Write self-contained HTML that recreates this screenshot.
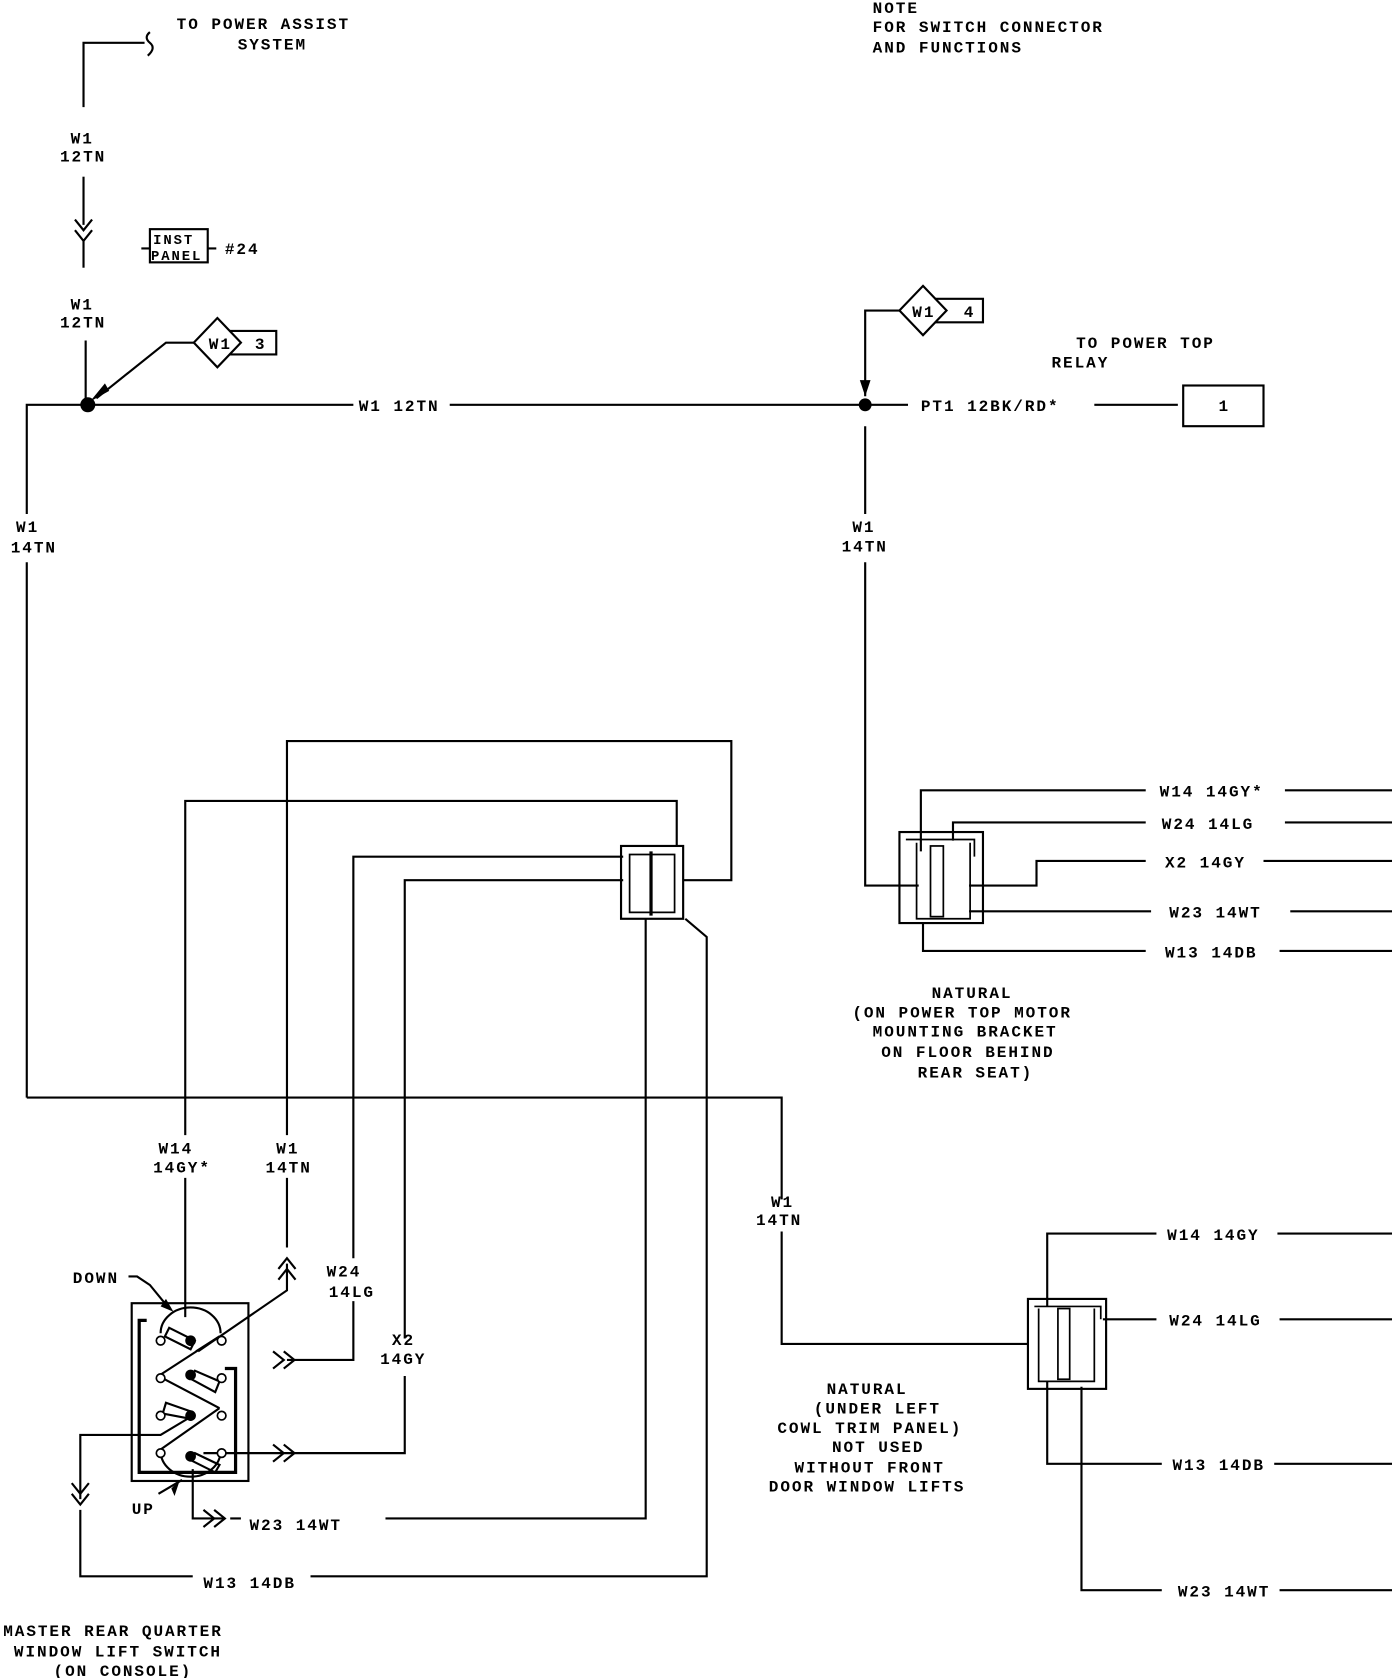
<!DOCTYPE html>
<html><head><meta charset="utf-8"><style>
html,body{margin:0;padding:0;background:#fff}
svg{display:block}
text{font-family:"Liberation Mono",monospace;font-weight:bold;font-size:15px;letter-spacing:1.8px;fill:#000}
</style></head><body>
<svg width="1392" height="1678" viewBox="0 0 1300 1567" preserveAspectRatio="none" xmlns="http://www.w3.org/2000/svg">
<g fill="none" stroke="#000" stroke-width="2">
<!-- top left feed -->
<path d="M78 100 V40 H135"/>
<path d="M140 30 q-6 5 0 10 q6 5 -2 12"/>
<path d="M78 165 V210"/>
<path d="M70 205 l8 10 l8 -10 M70 215 l8 10 l8 -10"/>
<path d="M78 225 V250"/>
<rect x="140" y="214" width="54" height="31"/>
<path d="M132 232 H140 M194 232 H202"/>
<path d="M80 318 V378"/>
<!-- diamond 3 -->
<path d="M203 297 L225 320 L203 343 L181 320 Z"/>
<path d="M214 309 H258 V331 H214"/>
<path d="M181 320 H155 L90 372"/>
<!-- main horizontal -->
<path d="M25 1025 V525 M25 480 V378 H330 M420 378 H808 H848 M1022 378 H1100"/>
<rect x="1105" y="360" width="75" height="38"/>
<!-- diamond 4 -->
<path d="M862 267 L884 290 L862 313 L840 290 Z"/>
<path d="M873 279 H918 V301 H873"/>
<path d="M840 290 H808 V370"/>
<path d="M808 480 V398 M808 525 V827 H858"/>
<!-- right top connector wires -->
<path d="M860 795 V738 H1070 M1200 738 H1300"/>
<path d="M890 785 V768 H1070 M1200 768 H1300"/>
<path d="M905 827 H968 V804 H1070 M1180 804 H1300"/>
<path d="M905 851 H1075 M1205 851 H1300"/>
<path d="M862 862 V888 H1070 M1195 888 H1300"/>
<rect x="840" y="777" width="78" height="85"/>
<path d="M846 784 H910 V800 M856 787 V858 H906 V787" stroke-width="1.6"/>
<rect x="869" y="790" width="12" height="66" stroke-width="1.6"/>
<!-- bottom horizontal -->
<path d="M25 1025 H730 V1120 M730 1150 V1255 H960"/>
<!-- right bottom connector -->
<path d="M978 1220 V1152 H1080 M1193 1152 H1300"/>
<path d="M1030 1232 H1080 M1195 1232 H1300"/>
<path d="M978 1290 V1367 H1085 M1190 1367 H1300"/>
<path d="M1010 1295 V1485 H1085 M1195 1485 H1300"/>
<rect x="960" y="1213" width="73" height="84"/>
<path d="M966 1220 H1028 V1232 M970 1222 V1290 H1022 V1222" stroke-width="1.6"/>
<rect x="988" y="1222" width="11" height="66" stroke-width="1.6"/>
<!-- connector 1 -->
<rect x="580" y="790" width="58" height="68"/>
<path d="M588 798 V852 H630 V798 Z" stroke-width="1.6"/>
<path d="M608 795 V855" stroke-width="3"/>
<!-- loop wires -->
<path d="M268 1060 V692 H683 V822 H638"/>
<path d="M173 1060 V748 H632 V790"/>
<path d="M330 1175 V800 H582"/>
<path d="M378 1250 V822 H582"/>
<path d="M603 858 V1418 H360"/>
<path d="M640 858 L660 875 V1472 H290 M180 1472 H75 V1410"/>
<path d="M173 1100 V1230"/>
<path d="M268 1100 V1165"/>
<path d="M260 1185 l8 -10 l8 10 M260 1195 l8 -10 l8 10"/>
<path d="M268 1180 V1205 L185 1262"/>
<path d="M330 1215 V1270 H268"/>
<path d="M255 1262 l10 8 l-10 8 M265 1262 l10 8 l-10 8"/>
<path d="M378 1285 V1357 H190"/>
<path d="M255 1349 l10 8 l-10 8 M265 1349 l10 8 l-10 8"/>
<path d="M180 1372 V1418 H210"/>
<path d="M190 1410 l10 8 l-10 8 M200 1410 l10 8 l-10 8"/>
<path d="M215 1418 H225"/>
<path d="M67 1385 l8 10 l8 -10 M67 1395 l8 10 l8 -10"/>
<path d="M75 1400 V1340 H150 L175 1325"/>
<!-- switch -->
<rect x="123" y="1217" width="109" height="166"/>
<path d="M130 1340 V1233 H137 M130 1340 V1375 H220 V1278 H210" stroke-width="3"/>
<path d="M150 1245 A28 24 0 0 1 206 1245"/>
<path d="M150 1355 A28 24 0 0 0 206 1355"/>
<path d="M148 1285 L205 1248 M148 1285 L205 1315 M148 1355 L205 1315"/>
<path d="M183 1262 L205 1248" />
<path d="M158 1240 L182 1252 L178 1260 L154 1248 Z"/>
<path d="M182 1280 L205 1290 L201 1300 L177 1287 Z"/>
<path d="M155 1310 L178 1318 L178 1325 L152 1320 Z"/>
<path d="M182 1357 L205 1368 L201 1375 L177 1363 Z"/>
<path d="M120 1192 H128 L140 1200 L158 1222" />
<path d="M148 1395 L170 1382"/>
</g>
<g fill="#000">
<circle cx="82" cy="378" r="7"/>
<circle cx="808" cy="378" r="6"/>
<path d="M84 375 L98 358 L102 365 Z"/>
<path d="M803 355 L813 355 L808 370 Z"/>
<circle cx="178" cy="1252" r="5"/><circle cx="178" cy="1284" r="5"/><circle cx="178" cy="1322" r="5"/><circle cx="178" cy="1360" r="5"/>
<path d="M155 1213 L162 1225 L150 1220 Z"/>
<path d="M160 1390 L168 1382 L163 1397 Z"/>
</g>
<g fill="#fff" stroke="#000" stroke-width="1.6">
<circle cx="150" cy="1252" r="4"/><circle cx="207" cy="1252" r="4"/>
<circle cx="150" cy="1287" r="4"/><circle cx="207" cy="1287" r="4"/>
<circle cx="150" cy="1322" r="4"/><circle cx="207" cy="1322" r="4"/>
<circle cx="150" cy="1357" r="4"/><circle cx="207" cy="1357" r="4"/>
</g>
<text x="165" y="27">TO POWER ASSIST</text>
<text x="222" y="46">SYSTEM</text>
<text x="815" y="12">NOTE</text>
<text x="815" y="30">FOR SWITCH CONNECTOR</text>
<text x="815" y="49">AND FUNCTIONS</text>
<text x="66" y="134">W1</text><text x="56" y="151">12TN</text>
<text x="143" y="228" style="font-size:13px">INST</text><text x="141" y="243" style="font-size:13px">PANEL</text>
<text x="210" y="237">#24</text>
<text x="66" y="289">W1</text><text x="56" y="306">12TN</text>
<text x="195" y="326">W1</text><text x="238" y="326">3</text>
<text x="852" y="296">W1</text><text x="900" y="296">4</text>
<text x="335" y="384">W1 12TN</text>
<text x="860" y="384">PT1 12BK/RD*</text>
<text x="1005" y="325">TO POWER TOP</text>
<text x="982" y="343">RELAY</text>
<text x="1138" y="384">1</text>
<text x="15" y="497">W1</text><text x="10" y="516">14TN</text>
<text x="796" y="497">W1</text><text x="786" y="515">14TN</text>
<text x="1083" y="744">W14 14GY*</text>
<text x="1085" y="774">W24 14LG</text>
<text x="1088" y="810">X2 14GY</text>
<text x="1092" y="857">W23 14WT</text>
<text x="1088" y="894">W13 14DB</text>
<text x="870" y="932">NATURAL</text>
<text x="796" y="950">(ON POWER TOP MOTOR</text>
<text x="815" y="968">MOUNTING BRACKET</text>
<text x="823" y="987">ON FLOOR BEHIND</text>
<text x="857" y="1006">REAR SEAT)</text>
<text x="148" y="1077">W14</text><text x="143" y="1095">14GY*</text>
<text x="258" y="1077">W1</text><text x="248" y="1095">14TN</text>
<text x="720" y="1127">W1</text><text x="706" y="1144">14TN</text>
<text x="305" y="1192">W24</text><text x="307" y="1211">14LG</text>
<text x="366" y="1256">X2</text><text x="355" y="1274">14GY</text>
<text x="68" y="1198">DOWN</text>
<text x="123" y="1414">UP</text>
<text x="233" y="1429">W23 14WT</text>
<text x="190" y="1483">W13 14DB</text>
<text x="1090" y="1158">W14 14GY</text>
<text x="1092" y="1238">W24 14LG</text>
<text x="1095" y="1373">W13 14DB</text>
<text x="1100" y="1491">W23 14WT</text>
<text x="772" y="1302">NATURAL</text>
<text x="760" y="1320">(UNDER LEFT</text>
<text x="726" y="1338">COWL TRIM PANEL)</text>
<text x="777" y="1356">NOT USED</text>
<text x="742" y="1375">WITHOUT FRONT</text>
<text x="718" y="1393">DOOR WINDOW LIFTS</text>
<text x="3" y="1528">MASTER REAR QUARTER</text>
<text x="13" y="1547">WINDOW LIFT SWITCH</text>
<text x="50" y="1565">(ON CONSOLE)</text>
</svg>
</body></html>
